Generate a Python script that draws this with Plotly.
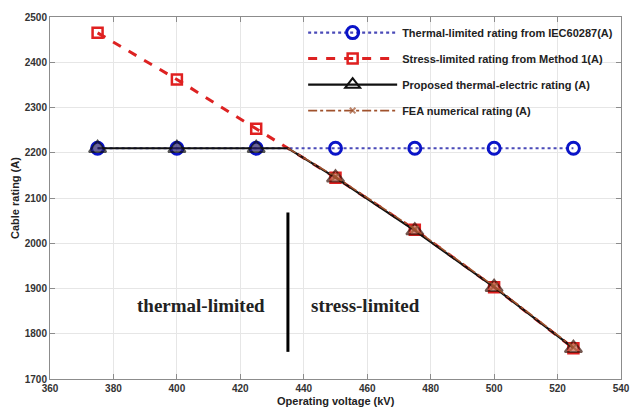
import plotly.graph_objects as go

voltage = [375, 400, 425, 450, 475, 500, 525]
thermal_rating = [2210, 2210, 2210, 2210, 2210, 2210, 2210]
stress_rating = [2465, 2362, 2253, 2145, 2030, 1903, 1768]
proposed_x = [375, 400, 425, 435, 450, 475, 500, 525]
proposed_rating = [2210, 2210, 2210, 2210, 2145, 2028, 1903, 1768]
fea_x = [435, 450, 475, 500, 525]
fea_rating = [2210, 2147, 2031, 1905, 1770]

x_ticks = [360, 380, 400, 420, 440, 460, 480, 500, 520, 540]
y_ticks = [1700, 1800, 1900, 2000, 2100, 2200, 2300, 2400, 2500]

boundary_v = 435
boundary_y = [1760, 2068]

LEFT, RIGHT, TOP, BOTTOM = 50, 10, 17, 29

fig = go.Figure()

fig.add_trace(go.Scatter(
    x=voltage, y=thermal_rating, mode="lines+markers",
    name="Thermal-limited rating from IEC60287(A)",
    line=dict(color="#4a4ab8", width=2.2, dash="dot"),
    marker=dict(symbol="circle-open", size=12, color="#0a14c8", line=dict(width=3, color="#0a14c8")),
    legendgroup="a",
))
fig.add_trace(go.Scatter(
    x=voltage, y=stress_rating, mode="lines+markers",
    name="Stress-limited rating from Method 1(A)",
    line=dict(color="#dd2222", width=3, dash="dash"),
    marker=dict(symbol="square-open", size=10, color="#e02020", line=dict(width=2.5, color="#e02020")),
    legendgroup="b",
))

prop_sizes = [0 if xv == boundary_v else 15 for xv in proposed_x]
prop_fill = ["#2a2070" if xv < boundary_v else "#c8604e" for xv in proposed_x]
prop_edge = ["#111111" if xv < boundary_v else "#3a1208" for xv in proposed_x]
fig.add_trace(go.Scatter(
    x=proposed_x, y=proposed_rating, mode="lines+markers",
    name="Proposed thermal-electric rating (A)",
    line=dict(color="#111111", width=2.2),
    marker=dict(symbol="triangle-up", size=prop_sizes, color=prop_fill, line=dict(width=2, color=prop_edge)),
    legendgroup="c", showlegend=False,
))
# legend entry for the proposed rating (open triangle as in the key)
fig.add_trace(go.Scatter(
    x=[None], y=[None], mode="lines+markers",
    name="Proposed thermal-electric rating (A)",
    line=dict(color="#111111", width=2.2),
    marker=dict(symbol="triangle-up-open", size=13, color="#111111", line=dict(width=2, color="#111111")),
    legendgroup="c",
))

fea_sizes = [0 if xv == boundary_v else 7 for xv in fea_x]
fig.add_trace(go.Scatter(
    x=fea_x, y=fea_rating, mode="lines+markers",
    name="FEA numerical rating (A)",
    line=dict(color="#a0522d", width=1.6, dash="dashdot"),
    marker=dict(symbol="x-thin-open", size=fea_sizes, color="#a0522d", line=dict(width=2, color="#a0522d")),
    legendgroup="d",
))

# white backing behind the legend (hides grid lines, keeps axis frame)
fig.add_shape(type="rect", xref="paper", yref="paper", x0=0.434, x1=1.0, y0=0.70, y1=1.0,
              fillcolor="white", line=dict(width=0), layer="between")

fig.add_shape(type="line", x0=boundary_v, x1=boundary_v, y0=boundary_y[0], y1=boundary_y[1],
              line=dict(color="black", width=3))

fig.add_annotation(x=407.5, y=1862, text="thermal-limited", showarrow=False,
                   font=dict(family="Liberation Serif", size=19, color="#222", weight="bold"))
fig.add_annotation(x=459.5, y=1862, text="stress-limited", showarrow=False,
                   font=dict(family="Liberation Serif", size=19, color="#222", weight="bold"))

title_font = dict(family="Liberation Sans", size=11, color="#222", weight="bold")
fig.add_annotation(xref="paper", yref="paper", x=0.5, y=0, yanchor="top", yshift=-14,
                   text="Operating voltage (kV)", showarrow=False, font=title_font)
fig.add_annotation(xref="paper", yref="paper", x=0, y=0.5, xanchor="center", xshift=-35,
                   textangle=-90, text="Cable rating (A)", showarrow=False, font=title_font)

axis_common = dict(
    showgrid=True, gridcolor="#e6e6e6", gridwidth=1,
    showline=True, linecolor="#8c8c8c", linewidth=1, mirror="ticks",
    ticks="inside", ticklen=5, tickcolor="#8c8c8c",
    tickfont=dict(family="Liberation Sans", size=10, color="#333", weight="bold"),
    zeroline=False, automargin=False,
)

fig.update_layout(
    width=631, height=408,
    margin=dict(l=LEFT, r=RIGHT, t=TOP, b=BOTTOM),
    paper_bgcolor="white", plot_bgcolor="white",
    xaxis=dict(range=[360, 540], tickvals=x_ticks, **axis_common),
    yaxis=dict(range=[1700, 2500], tickvals=y_ticks, **axis_common),
    legend=dict(x=0.995, xanchor="right", y=0.997, yanchor="top",
                bgcolor="rgba(0,0,0,0)", borderwidth=0,
                font=dict(family="Liberation Sans", size=11, color="#222", weight="bold"),
                itemwidth=89, tracegroupgap=7, traceorder="grouped"),
    showlegend=True,
)

fig.write_html("out.html", config={"displayModeBar": False},
               post_script="document.body.style.margin='0';document.body.style.overflow='hidden';")
